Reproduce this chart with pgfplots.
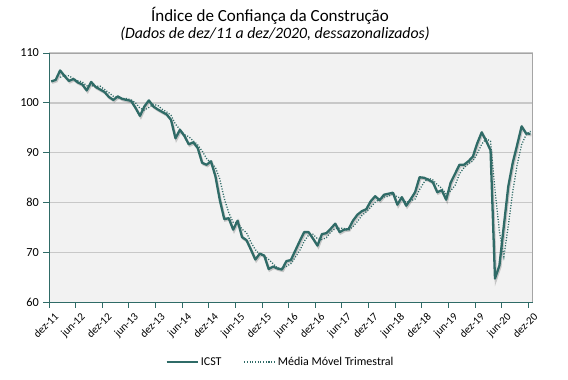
\documentclass[border=0pt]{standalone}
\usepackage{fontspec}
\setmainfont{Carlito}
\usepackage{pgfplots}
\usepackage{pgfplotstable}
\pgfplotsset{compat=1.18}
\definecolor{icst}{RGB}{47,107,103}
\definecolor{plotbg}{RGB}{242,242,242}
\definecolor{gridc}{RGB}{200,200,200}
\definecolor{framec}{RGB}{165,165,165}

\pgfplotstableread{
x y
0 104.3
1 104.6
2 106.5
3 105.4
4 104.4
5 104.8
6 104.1
7 103.7
8 102.5
9 104.2
10 103.2
11 102.7
12 102.2
13 101.2
14 100.6
15 101.3
16 100.8
17 100.6
18 100.4
19 99.0
20 97.4
21 99.3
22 100.5
23 99.3
24 98.7
25 98.2
26 97.7
27 96.6
28 92.9
29 94.6
30 93.4
31 91.7
32 92.1
33 91.0
34 88.0
35 87.6
36 88.3
37 85.3
38 80.5
39 76.7
40 76.9
41 74.6
42 76.4
43 73.1
44 72.5
45 70.6
46 68.6
47 69.8
48 69.4
49 66.7
50 67.2
51 66.8
52 66.6
53 68.3
54 68.5
55 70.4
56 72.3
57 74.1
58 74.1
59 72.8
60 71.4
61 73.7
62 73.9
63 74.8
64 75.8
65 74.1
66 74.6
67 74.7
68 76.4
69 77.6
70 78.3
71 78.7
72 80.3
73 81.3
74 80.5
75 81.6
76 81.8
77 82.0
78 79.6
79 81.1
80 79.4
81 80.7
82 82.1
83 85.1
84 85.0
85 84.6
86 84.1
87 82.1
88 82.5
89 80.6
90 84.0
91 85.8
92 87.6
93 87.6
94 88.3
95 89.2
96 91.9
97 94.1
98 92.4
99 90.5
100 64.8
101 67.4
102 75.4
103 83.3
104 88.0
105 91.6
106 95.3
107 93.9
108 93.8
}\icsttable

\pgfplotstableread{
x y
2 105.13
3 105.50
4 105.43
5 104.87
6 104.43
7 104.20
8 103.43
9 103.47
10 103.30
11 103.37
12 102.70
13 102.03
14 101.33
15 101.03
16 100.90
17 100.90
18 100.60
19 100.00
20 98.93
21 98.57
22 99.07
23 99.70
24 99.50
25 98.73
26 98.20
27 97.50
28 95.73
29 94.70
30 93.63
31 93.23
32 92.40
33 91.60
34 90.37
35 88.87
36 87.97
37 87.07
38 84.70
39 80.83
40 78.03
41 76.07
42 75.97
43 74.70
44 74.00
45 72.07
46 70.57
47 69.67
48 69.27
49 68.63
50 67.77
51 66.90
52 66.87
53 67.23
54 67.80
55 69.07
56 70.40
57 72.27
58 73.50
59 73.67
60 72.77
61 72.63
62 73.00
63 74.13
64 74.83
65 74.90
66 74.83
67 74.47
68 75.23
69 76.23
70 77.43
71 78.20
72 79.10
73 80.10
74 80.70
75 81.13
76 81.30
77 81.80
78 81.13
79 80.90
80 80.03
81 80.40
82 80.73
83 82.63
84 84.07
85 84.90
86 84.57
87 83.60
88 82.90
89 81.73
90 82.37
91 83.47
92 85.80
93 87.00
94 87.83
95 88.37
96 89.80
97 91.73
98 92.80
99 92.33
100 82.57
101 74.23
102 69.20
103 75.37
104 82.23
105 87.63
106 91.63
107 93.60
108 94.33
}\matable

\begin{document}
\begin{tikzpicture}[x=1pt,y=1pt]
\path[use as bounding box] (0,0) rectangle (568,380);
\node[font=\fontsize{17}{20}\selectfont] at (270,364) {Índice de Confiança da Construção};
\node[font=\fontsize{15.8}{18}\selectfont\itshape] at (275,346) {(Dados de dez/11 a dez/2020, dessazonalizados)};
\begin{axis}[
  at={(49pt,77.5pt)}, anchor=south west,
  scale only axis, width=483.7pt, height=249.5pt,
  xmin=-0.5, xmax=108.5, ymin=60, ymax=110,
  ytick={60,70,80,90,100,110},
  xtick={-0.5,5.5,11.5,17.5,23.5,29.5,35.5,41.5,47.5,53.5,59.5,65.5,71.5,77.5,83.5,89.5,95.5,101.5,107.5},
  xticklabels={dez-11,jun-12,dez-12,jun-13,dez-13,jun-14,dez-14,jun-15,dez-15,jun-16,dez-16,jun-17,dez-17,jun-18,dez-18,jun-19,dez-19,jun-20,dez-20},
  xtick pos=bottom, ytick pos=left,
  tick align=outside, major tick length=5.5pt,
  major tick style={icst, line width=0.9pt},
  axis background/.style={fill=plotbg},
  axis line style={framec, line width=0.8pt},
  ymajorgrids, grid style={gridc, line width=1.3pt},
  /pgf/number format/assume math mode=true,
  yticklabel style={font=\fontsize{12.3}{14}\selectfont, xshift=-1pt},
  xticklabel style={font=\fontsize{11}{12}\selectfont, rotate=45, anchor=north east, inner sep=1pt, xshift=1.5pt, yshift=-5pt},
  legend style={at={(axis description cs:0.4786,-0.238)}, anchor=center, draw=none, fill=none,
     legend columns=2, font=\fontsize{12}{14}\selectfont,
     /tikz/every even column/.append style={column sep=20pt}},
  legend image code/.code={\draw[#1] (0pt,0pt) -- (31pt,0pt);},
  after end axis/.code={
    \draw[icst, line width=0.9pt] (rel axis cs:0,1) -- (rel axis cs:0,0) -- (rel axis cs:1,0);
  },
]
\addplot[black, opacity=0.18, line width=2.4pt, forget plot, xshift=0.9pt, yshift=-1.3pt] table[x=x,y=y] {\icsttable};
\addplot[icst, line width=2.3pt, line join=round] table[x=x,y=y] {\icsttable};
\addlegendentry{ICST}
\addplot[icst, line width=1.3pt, dash pattern=on 1.1pt off 1.6pt] table[x=x,y=y] {\matable};
\addlegendentry{Média Móvel Trimestral}
\end{axis}
\end{tikzpicture}
\end{document}
